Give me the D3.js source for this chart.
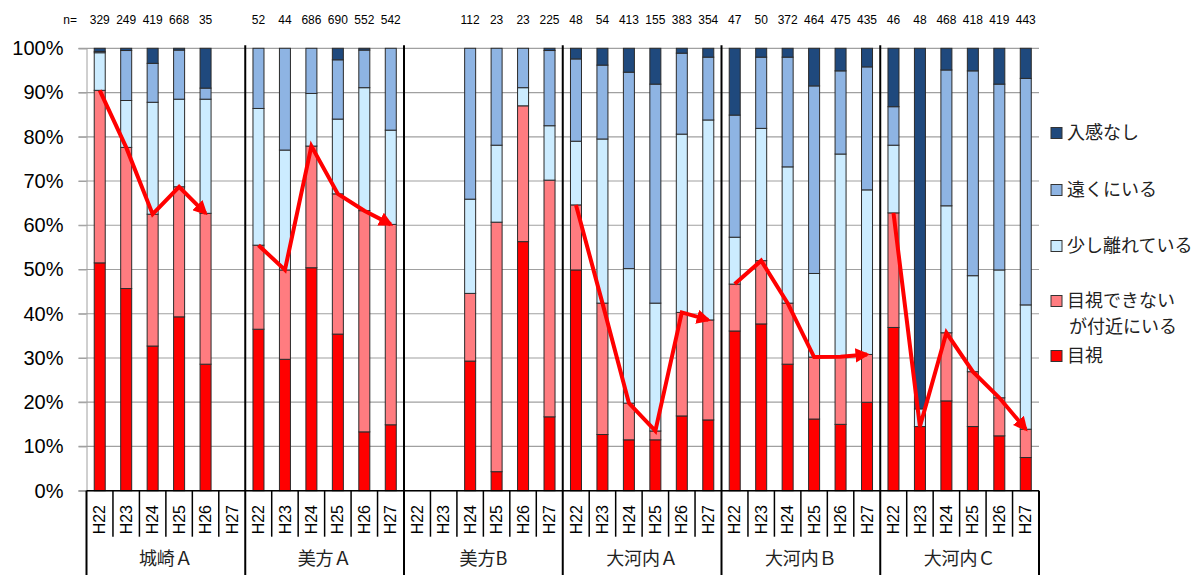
<!DOCTYPE html>
<html>
<head>
<meta charset="utf-8">
<script src="https://cdn.jsdelivr.net/npm/d3@7"></script>
<style>
  body { margin: 0; background: #fff; }
  text { font-family: "Liberation Sans", Arial, "Noto Sans CJK JP", sans-serif; }
  .jp { font-family: "Noto Sans CJK JP", sans-serif; }
</style>
</head>
<body>
<div id="chart"></div>
<script>
// data (percent of each bar)
var groups = ["城崎Ａ", "美方Ａ", "美方B", "大河内Ａ", "大河内Ｂ", "大河内Ｃ"];
var years = ["H22", "H23", "H24", "H25", "H26", "H27"];
var nCounts = [
    329, 249, 419, 668, 35, null,
    52, 44, 686, 690, 552, 542,
    null, null, 112, 23, 23, 225,
    48, 54, 413, 155, 383, 354,
    47, 50, 372, 464, 475, 435,
    46, 48, 468, 418, 419, 443];
var mokushi = [
    51.5, 45.7, 32.7, 39.3, 28.6, 0,
    36.5, 29.7, 50.4, 35.4, 13.3, 14.9,
    0, 0, 29.3, 4.3, 56.3, 16.7,
    49.9, 12.7, 11.5, 11.5, 16.9, 16.0,
    36.1, 37.7, 28.6, 16.2, 15.0, 20.0,
    36.9, 14.5, 20.3, 14.5, 12.4, 7.5];
var fukin = [
    39.0, 31.9, 29.8, 29.4, 34.1, 0,
    19.0, 20.2, 27.5, 31.7, 50.0, 45.3,
    0, 0, 15.3, 56.4, 30.7, 53.5,
    14.7, 29.7, 8.3, 2.0, 23.4, 22.6,
    10.6, 14.3, 13.8, 14.0, 15.3, 10.8,
    25.9, 0, 15.4, 12.4, 8.6, 6.4];
var sukoshi = [
    8.5, 10.6, 25.3, 19.8, 25.8, 0,
    30.9, 27.1, 11.9, 16.9, 27.8, 21.3,
    0, 0, 21.3, 17.4, 4.1, 12.3,
    14.4, 37.1, 30.4, 28.9, 40.3, 45.2,
    10.6, 29.9, 30.8, 18.9, 45.8, 37.2,
    15.3, 4.0, 28.7, 21.7, 28.9, 28.1];
var tooku = [
    0.3, 11.3, 8.8, 11.1, 2.5, 0,
    13.6, 23.0, 10.2, 13.4, 8.5, 18.5,
    0, 0, 34.1, 21.9, 8.9, 17.0,
    18.6, 16.7, 44.4, 49.5, 18.3, 14.2,
    27.6, 16.1, 24.8, 42.4, 18.8, 27.8,
    8.7, 0, 30.7, 46.3, 42.0, 51.2];
var nyukan = [
    0.7, 0.5, 3.4, 0.4, 9.0, 0,
    0, 0, 0, 2.6, 0.4, 0,
    0, 0, 0, 0, 0, 0.5,
    2.4, 3.8, 5.4, 8.1, 1.1, 2.0,
    15.1, 2.0, 2.0, 8.5, 5.1, 4.2,
    13.2, 81.5, 4.9, 5.1, 8.1, 6.8];
// groups that carry the red trend arrow
var trendGroups = [true, true, false, true, true, true];

var seriesNames = ["目視", "目視できないが付近にいる", "少し離れている", "遠くにいる", "入感なし"];
var seriesKeys = ["mokushi", "fukin", "sukoshi", "tooku", "nyukan"];
var colors = ["#FF0000", "#FF7C80", "#CCECFF", "#8EB4E3", "#1F497D"];

var width = 1198, height = 575;
var margin = {top: 48.3, left: 86.5, right: 159, bottom: 84.3};
var plotW = width - margin.left - margin.right;
var plotH = height - margin.top - margin.bottom;

var rows = [];
groups.forEach(function(g, gi) {
    years.forEach(function(yr, yi) {
        var i = gi * years.length + yi;
        rows.push({key: g + "|" + yr, group: g, gi: gi, year: yr, n: nCounts[i],
            mokushi: mokushi[i], fukin: fukin[i], sukoshi: sukoshi[i], tooku: tooku[i], nyukan: nyukan[i]});
    });
});

var x = d3.scaleBand()
    .domain(rows.map(function(d) { return d.key; }))
    .range([0, plotW])
    .paddingInner(0.584)
    .paddingOuter(0.292);
var step = x.step();
var y = d3.scaleLinear().domain([0, 100]).range([plotH, 0]);

var svg = d3.select("#chart").append("svg")
    .attr("width", width)
    .attr("height", height);

svg.append("defs").append("marker")
    .attr("id", "arrow")
    .attr("viewBox", "0 0 10 10")
    .attr("refX", 8)
    .attr("refY", 5)
    .attr("markerWidth", 3.6)
    .attr("markerHeight", 3.6)
    .attr("orient", "auto")
    .append("path")
    .attr("d", "M0,0 L10,5 L0,10 Z")
    .attr("fill", "#FF0000");

var g = svg.append("g").attr("transform", "translate(" + margin.left + "," + margin.top + ")");

// gridlines
g.append("g")
    .selectAll("line")
    .data(d3.range(0, 101, 10))
    .join("line")
    .attr("x1", -8)
    .attr("x2", plotW)
    .attr("y1", function(d) { return y(d); })
    .attr("y2", function(d) { return y(d); })
    .attr("stroke", "#a0a0a0")
    .attr("stroke-width", 1.2);

// y axis
var yAxis = d3.axisLeft(y)
    .tickValues(d3.range(0, 101, 10))
    .tickSize(8)
    .tickPadding(15)
    .tickFormat(function(d) { return d + "%"; });
var ya = g.append("g").call(yAxis);
ya.select(".domain").attr("stroke", "#a0a0a0");
ya.selectAll(".tick line").attr("stroke", "#a0a0a0");
ya.selectAll("text")
    .style("font-size", "20px")
    .style("font-family", "'Liberation Sans', Arial, sans-serif")
    .attr("fill", "#000");

// stacked bars
var stack = d3.stack().keys(seriesKeys);
var stacked = stack(rows);

g.append("g")
    .selectAll("g")
    .data(stacked)
    .join("g")
    .attr("fill", function(d, i) { return colors[i]; })
    .selectAll("rect")
    .data(function(d) { return d.filter(function(s) { return s[1] - s[0] > 0; }); })
    .join("rect")
    .attr("x", function(d) { return x(d.data.key); })
    .attr("width", x.bandwidth())
    .attr("y", function(d) { return y(d[1]); })
    .attr("height", function(d) { return y(d[0]) - y(d[1]); })
    .attr("stroke", "#2b2b2b")
    .attr("stroke-width", 1);

// red trend arrows (top of red + pink)
var line = d3.line()
    .x(function(d) { return x(d.key) + x.bandwidth() / 2; })
    .y(function(d) { return y(d.mokushi + d.fukin); });

groups.forEach(function(grp, gi) {
    if (!trendGroups[gi]) return;
    var pts = rows.filter(function(d) { return d.gi === gi && d.n != null; });
    g.append("path")
        .datum(pts)
        .attr("d", line)
        .attr("fill", "none")
        .attr("stroke", "#FF0000")
        .attr("stroke-width", 4)
        .attr("stroke-linejoin", "miter")
        .attr("marker-end", "url(#arrow)");
});

// x axis line
g.append("line")
    .attr("x1", 0).attr("x2", plotW)
    .attr("y1", plotH).attr("y2", plotH)
    .attr("stroke", "#000").attr("stroke-width", 1.5);

// category boundaries below the axis
g.append("g")
    .selectAll("line")
    .data(rows.filter(function(d, i) { return i % years.length !== 0; }))
    .join("line")
    .attr("x1", function(d) { return x(d.key) - (step - x.bandwidth()) / 2; })
    .attr("x2", function(d) { return x(d.key) - (step - x.bandwidth()) / 2; })
    .attr("y1", plotH)
    .attr("y2", plotH + 46)
    .attr("stroke", "#000")
    .attr("stroke-width", 1.5);

// group separators
var bounds = d3.range(groups.length + 1).map(function(i) { return i * years.length * step; });
g.append("g")
    .selectAll("line")
    .data(bounds)
    .join("line")
    .attr("x1", function(d) { return d; })
    .attr("x2", function(d) { return d; })
    .attr("y1", function(d, i) { return (i === 0 || i === groups.length) ? plotH : -3; })
    .attr("y2", height - margin.top)
    .attr("stroke", "#000")
    .attr("stroke-width", 2);

// year labels
g.append("g")
    .selectAll("text")
    .data(rows)
    .join("text")
    .attr("transform", function(d) {
        return "translate(" + (x(d.key) + x.bandwidth() / 2) + "," + (plotH + 29) + ") rotate(-90)";
    })
    .attr("text-anchor", "middle")
    .attr("dy", "0.35em")
    .style("font-size", "16px")
    .text(function(d) { return d.year; });

// group labels
g.append("g")
    .selectAll("text")
    .data(groups)
    .join("text")
    .attr("class", "jp")
    .attr("x", function(d, i) { return (i + 0.5) * years.length * step; })
    .attr("y", plotH + 68)
    .attr("text-anchor", "middle")
    .attr("dy", "0.35em")
    .style("font-size", "18px")
    .attr("fill", "#222")
    .text(function(d) { return d; });

// n= counts
svg.append("text")
    .attr("x", 77)
    .attr("y", 20)
    .attr("text-anchor", "end")
    .attr("dy", "0.35em")
    .style("font-size", "12px")
    .text("n=");
g.append("g")
    .selectAll("text")
    .data(rows.filter(function(d) { return d.n != null; }))
    .join("text")
    .attr("x", function(d) { return x(d.key) + x.bandwidth() / 2; })
    .attr("y", 20 - margin.top)
    .attr("text-anchor", "middle")
    .attr("dy", "0.35em")
    .style("font-size", "12px")
    .text(function(d) { return d.n; });

// legend (top to bottom reversed order)
var legendItems = [
    {name: ["入感なし"], color: colors[4], y: 133},
    {name: ["遠くにいる"], color: colors[3], y: 190},
    {name: ["少し離れている"], color: colors[2], y: 246},
    {name: ["目視できない", "が付近にいる"], color: colors[1], y: 301},
    {name: ["目視"], color: colors[0], y: 356}];
var legend = svg.append("g");
var li = legend.selectAll("g")
    .data(legendItems)
    .join("g")
    .attr("transform", function(d) { return "translate(1051," + d.y + ")"; });
li.append("rect")
    .attr("x", 0).attr("y", -5.5)
    .attr("width", 11).attr("height", 11)
    .attr("fill", function(d) { return d.color; })
    .attr("stroke", "#333")
    .attr("stroke-width", 1);
li.append("text")
    .attr("class", "jp")
    .attr("x", 16)
    .style("font-size", "18px")
    .attr("fill", "#222")
    .selectAll("tspan")
    .data(function(d) { return d.name; })
    .join("tspan")
    .attr("x", function(d, i) { return i === 0 ? 16 : 18; })
    .attr("y", function(d, i) { return i * 26; })
    .attr("dy", "0.35em")
    .text(function(d) { return d; });
</script>
</body>
</html>
